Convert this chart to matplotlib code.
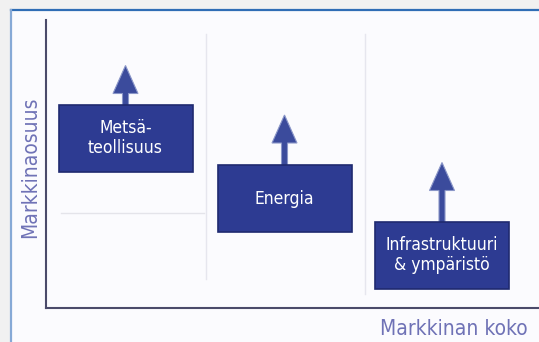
import matplotlib
matplotlib.use("Agg")
import matplotlib.pyplot as plt
from matplotlib.patches import Rectangle, FancyArrow
from matplotlib.lines import Line2D

# segment data (x = market size, y = market share, up = growth potential)
segments = ["Metsä-\nteollisuus", "Energia", "Infrastruktuuri\n& ympäristö"]
market_size = [79.5, 238.5, 396]
market_share = [170, 109.5, 53]
growth = [39, 50, 59]

x_label = "Markkinan koko"
y_label = "Markkinaosuus"

BOX_W, BOX_H = 134, 67
plt.rcParams['font.family'] = ['Liberation Sans Narrow', 'DejaVu Sans']
plt.rcParams['font.stretch'] = 'condensed'

fig = plt.figure(figsize=(5.39, 3.42), dpi=100)
fig.patch.set_facecolor("#f1f1f1")
W, H = 539, 342

# panel with blue frame
fig.patches.append(Rectangle((11 / W, 0), 1, 1 - 10 / H, transform=fig.transFigure,
                             facecolor="#fbfbfe", edgecolor="none", zorder=-1))
fig.add_artist(Line2D([11 / W, 1], [1 - 10 / H, 1 - 10 / H], transform=fig.transFigure,
                      color="#2f6db5", lw=1.6))
fig.add_artist(Line2D([11 / W, 11 / W], [0, 1 - 10 / H], transform=fig.transFigure,
                      color="#86a9d6", lw=1.6))

ax = fig.add_axes([46 / W, (H - 308) / H, (W - 46) / W, 288 / H])
ax.set_zorder(2)
ax.set_xlim(0, W - 46)
ax.set_ylim(0, 288)
ax.patch.set_alpha(0)
for s in ["top", "right"]:
    ax.spines[s].set_visible(False)
for s in ["left", "bottom"]:
    ax.spines[s].set_color("#4a4a6a")
    ax.spines[s].set_linewidth(1.5)
ax.set_xticks([])
ax.set_yticks([])

# faint guide lines
ax.axvline(160, ymin=0.1, ymax=0.95, color="#e6e6ee", lw=1)
ax.axvline(319, ymin=0.05, ymax=0.95, color="#e6e6ee", lw=1)
ax.axhline(95, xmin=0.03, xmax=0.32, color="#e4e4ea", lw=1)

for name, x, y, g in zip(segments, market_size, market_share, growth):
    top = y + BOX_H / 2
    ax.add_patch(FancyArrow(x, top - 2, 0, g + 2, width=6, head_width=25, head_length=28,
                            length_includes_head=True, color="#3b4b9c", ec="#8a96c8",
                            lw=0.8, zorder=2))
    ax.add_patch(Rectangle((x - BOX_W / 2, y - BOX_H / 2), BOX_W, BOX_H,
                           facecolor="#2d3b92", edgecolor="#1f2a70", lw=1.2, zorder=3))
    ax.text(x, y, name, color="white", fontsize=12.5, ha="center", va="center",
            linespacing=1.15, zorder=4)

fig.text(30 / W, 1 - 167 / H, y_label, rotation=90, color="#6f72b6", fontsize=15,
         ha="center", va="center")
fig.text(528 / W, 1 - 329 / H, x_label, color="#6f72b6", fontsize=15,
         ha="right", va="center")

fig.savefig("out.png", dpi=100, facecolor=fig.get_facecolor())
